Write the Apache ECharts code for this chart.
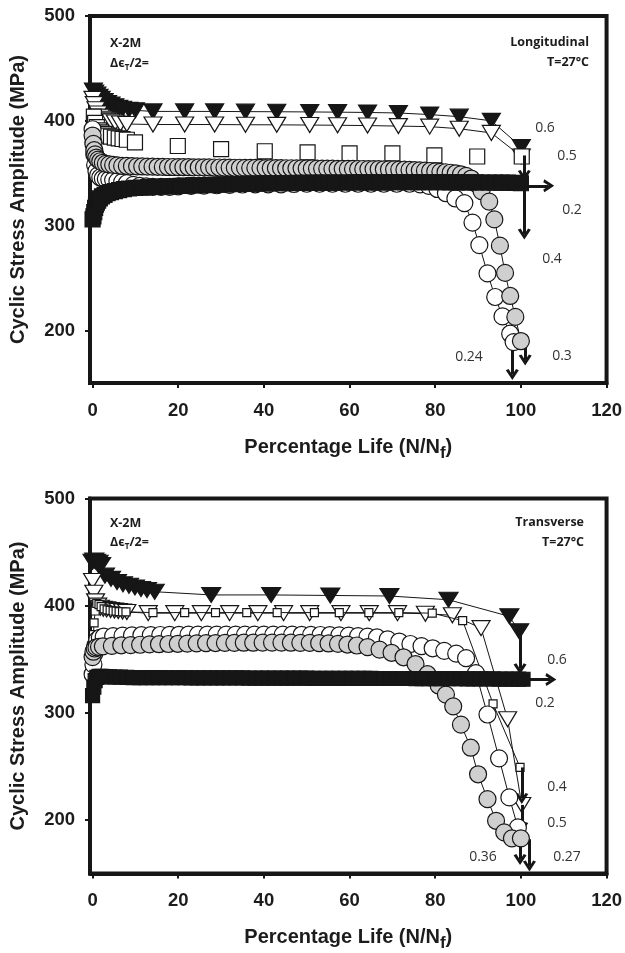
<!DOCTYPE html>
<html><head><meta charset="utf-8">
<script src="https://cdn.jsdelivr.net/npm/echarts@6/dist/echarts.min.js"></script>
<style>html,body{margin:0;padding:0;background:#fff}#c{width:625px;height:953px}</style>
</head><body><div id="c"></div>
<script>
// ---------- tick labels ----------
const xTicks = [0, 20, 40, 60, 80, 100, 120];
const yTicks = [200, 300, 400, 500];

// ---------- TOP: Longitudinal ----------
const L_06 = [[0.2,429],[0.5,427],[1,425],[1.5,423],[2,421],[2.7,419],[3.5,417],[4.3,415.5],[5.2,414],[6.1,412.5],[7,411.5],[8.5,410.5],[10,410],[14.1,409],[21.5,409],[28.5,409],[35.7,408.8],[43,408.7],[50.7,408.5],[57.2,408.3],[64.2,408],[71.4,407.5],[78.7,406],[85.6,404],[93.1,400],[100.1,375]];
const L_05 = [[0.1,421],[0.4,416],[0.8,411],[1.3,407],[1.9,404],[2.6,402],[3.4,400.5],[4.3,399.5],[5.3,398.5],[6.5,397.5],[8,397],[14.1,396.5],[21.5,396.5],[28.5,396.5],[35.7,396.3],[43,396.2],[50.7,396],[57.2,395.8],[64.2,395.5],[71.4,395],[78.7,394.5],[85.6,392.5],[93.1,388.5],[100.1,366]];
const L_04 = [[0.3,404],[0.6,398],[1,394],[1.5,391],[2,389],[2.7,387.5],[3.5,386],[4.3,385],[5.2,384],[6.1,383.3],[7,382.7],[8,382],[9.9,379.5],[19.9,376],[30,373],[40.2,371],[50.2,370],[60,369],[70,369],[79.8,367],[89.8,366],[100.2,366]];
const L_024 = [[0,392],[0.2,380],[0.4,368],[0.6,358],[0.9,352],[1.3,348],[1.8,346],[2.4,345],[3.1,344.5],[3.9,344],[4.8,343.5],[5.8,342.5],[6.9,341.5],[8,340.5],[9.5,339],[11,338],[12.5,337.5],[14,337],[16,337],[18,337],[20,337.5],[23,338],[26,338.3],[29,338.6],[32,339],[35,339.3],[38,339.5],[41,339.5],[44,339.5],[47,339.8],[50,340],[53,340],[56,340],[59,340],[62,340],[65,340],[68,340],[71,340],[74,340],[76.5,339.5],[78.5,338],[80.5,335],[82.5,331],[84.7,326],[86.8,321.6],[88.7,303],[90.3,281.5],[92.2,254.5],[94,232],[95.7,213.5],[97.5,197],[98.3,189]];
const L_03 = [[0,386],[0.2,378],[0.4,372],[0.6,368],[0.9,365],[1.3,363],[1.8,361.5],[2.4,360],[3.1,359],[3.9,358.5],[4.8,358],[5.8,357.5],[6.9,357],[8,357],[9.2,356.8],[10.4,356.6],[11.6,356.5],[12.8,356.4],[14,356.3],[15.2,356.2],[16.4,356.1],[17.6,356],[18.8,356],[20,355.9],[21.2,355.8],[22.4,355.8],[23.6,355.7],[24.8,355.7],[26,355.6],[27.2,355.6],[28.4,355.5],[29.6,355.5],[30.8,355.4],[32,355.4],[33.2,355.3],[34.4,355.3],[35.6,355.2],[36.8,355.2],[38,355.1],[39.2,355.1],[40.4,355],[41.6,355],[42.8,354.9],[44,354.9],[45.2,354.8],[46.4,354.8],[47.6,354.7],[48.8,354.7],[50,354.6],[51.2,354.6],[52.4,354.5],[53.6,354.5],[54.8,354.4],[56,354.4],[57.2,354.3],[58.4,354.3],[59.6,354.2],[60.8,354.2],[62,354.1],[63.2,354.1],[64.4,354],[65.6,354],[66.8,353.9],[68,353.8],[69.2,353.7],[70.4,353.6],[71.6,353.5],[72.8,353.4],[74,353.2],[75.2,353],[76.4,352.8],[77.6,352.5],[78.8,352.2],[80,351.8],[81.2,351.4],[82.4,351],[83.6,350.5],[84.8,350],[86,349],[87.2,347.5],[88.4,345],[89.6,340],[90.8,333],[92.6,323],[93.8,306],[95.1,281],[96.3,255],[97.5,233],[98.7,213],[100,190]];
const L_02 = [[0,306],[0.2,309],[0.4,313],[0.6,317],[0.8,320],[1,322],[1.3,324],[1.7,326],[2.2,328],[2.8,329.5],[3.5,331],[4.3,332],[5.2,333],[6.2,334],[7.3,334.8],[8.5,335.5],[10,336],[11.5,336.4],[13,336.8],[14.5,337.1],[16,337.4],[17.5,337.6],[19,337.8],[20.5,338],[22,338.2],[23.5,338.4],[25,338.6],[26.5,338.8],[28,339],[29.5,339.2],[31,339.4],[32.5,339.6],[34,339.8],[35.5,340],[37,340.1],[38.5,340.2],[40,340.3],[41.5,340.4],[43,340.5],[44.5,340.6],[46,340.7],[47.5,340.8],[49,340.8],[50.5,340.9],[52,341],[53.5,341],[55,341.1],[56.5,341.1],[58,341.2],[59.5,341.2],[61,341.3],[62.5,341.3],[64,341.3],[65.5,341.4],[67,341.4],[68.5,341.4],[70,341.5],[71.5,341.5],[73,341.5],[74.5,341.5],[76,341.5],[77.5,341.5],[79,341.5],[80.5,341.5],[82,341.5],[83.5,341.4],[85,341.4],[86.5,341.4],[88,341.3],[89.5,341.3],[91,341.2],[92.5,341.2],[94,341.1],[95.5,341],[97,341],[98.5,340.8],[100,340.5]];
const L_arrows = [[[100.8,367],[100.8,348]],[[100.8,334],[100.8,292]],[[100,338],[106.5,338]],[[98,187],[98,158]],[[101,191],[101,172]]];

// ---------- BOTTOM: Transverse ----------
const T_06 = [[0,441],[0.4,442],[0.8,441],[1.4,440],[2,438],[2.9,428],[4.3,425],[5.7,422],[7.1,420],[8.5,418.5],[9.9,417],[11.3,415.5],[12.7,414.5],[14.5,413],[27.7,410],[41.7,410],[55.5,409.5],[69.3,409],[83.1,405.5],[97.3,390],[99.6,376]];
const T_05 = [[0,423],[0.3,412],[0.7,404],[1.2,400],[1.8,398],[2.5,397],[3.3,396.5],[4.2,396],[5.1,395.5],[6,395],[7,394.5],[8,394],[13,393],[19.2,393],[25.4,393],[32,393],[38.6,393],[44.6,393],[50.7,393],[58,393],[64.6,393],[71.2,393],[77.7,392.5],[84,391],[90.7,379],[96.9,294],[100.2,214]];
const T_04 = [[0,356],[0.1,364],[0.2,373],[0.35,384],[0.6,395],[1,402],[1.5,401],[2,399],[2.7,397],[3.4,396],[4.1,395.5],[4.8,395],[5.5,394.8],[6.2,394.5],[7,394.3],[7.8,394.2],[14.1,393.5],[21.5,393.5],[28.7,393.5],[36,393.5],[43.1,393.5],[51.8,393.5],[57.6,393.5],[64.5,393.5],[71.5,393.5],[79.3,393],[86.4,386],[93.5,308.4],[99.8,249]];
const T_027 = [[0,336],[0.2,345],[0.4,355],[0.7,363],[1.1,368],[1.7,370],[2.6,371],[4.8,371.5],[7,372],[9.2,372.2],[11.4,372.4],[13.6,372.5],[15.8,372.6],[18,372.7],[20.2,372.8],[22.4,372.9],[24.6,373],[26.8,373],[29,373],[31.2,373],[33.4,373],[35.6,373],[37.8,373],[40,373],[42.2,373],[44.4,373],[46.6,372.9],[48.8,372.8],[51,372.7],[53.2,372.6],[55.4,372.4],[57.6,372.2],[59.8,372],[62,371.6],[64.2,371.1],[66.4,370.3],[68.9,368.5],[71.6,366.5],[74.2,364.2],[76.8,362.2],[79.4,360.2],[82.1,357.8],[84.9,355.2],[87.2,351],[89.5,337],[92.2,298.4],[94.9,257.5],[97.3,221],[99.3,193]];
const T_036 = [[0,352],[0.2,357],[0.5,360],[0.9,361],[1.5,361.5],[2.4,362],[4.5,362.5],[6.7,363],[8.9,363.2],[11.1,363.5],[13.3,363.8],[15.5,364],[17.7,364.2],[19.9,364.4],[22.1,364.6],[24.3,364.8],[26.5,365],[28.7,365.1],[30.9,365.2],[33.1,365.3],[35.3,365.4],[37.5,365.4],[39.7,365.5],[41.9,365.5],[44.1,365.5],[46.3,365.4],[48.5,365.3],[50.7,365.2],[52.9,365],[55.1,364.7],[57.3,364.3],[59.5,363.7],[61.7,362.8],[64.2,361.3],[67,359],[69.8,356],[72.6,351.8],[75.4,345.5],[78.2,336],[80.8,325.5],[82.5,317],[84.2,306],[86,289],[88.3,267.4],[90,242.6],[92.2,219.4],[94.2,199.2],[96.1,188.4],[97.9,182.8],[100,182.8]];
const T_02 = [[0,316],[0.3,324],[0.6,330],[1,333],[1.5,334],[2.2,334],[3,333.8],[4,333.6],[5.2,333.4],[6.5,333.2],[8,333],[9.5,332.9],[11,332.9],[12.5,332.8],[14,332.8],[15.5,332.8],[17,332.7],[18.5,332.7],[20,332.7],[21.5,332.7],[23,332.6],[24.5,332.6],[26,332.6],[27.5,332.6],[29,332.5],[30.5,332.5],[32,332.5],[33.5,332.5],[35,332.5],[36.5,332.4],[38,332.4],[39.5,332.4],[41,332.4],[42.5,332.4],[44,332.3],[45.5,332.3],[47,332.3],[48.5,332.3],[50,332.3],[51.5,332.2],[53,332.2],[54.5,332.2],[56,332.2],[57.5,332.2],[59,332.1],[60.5,332.1],[62,332.1],[63.5,332.1],[65,332.1],[66.5,332],[68,332],[69.5,332],[71,332],[72.5,332],[74,332],[75.5,331.9],[77,331.9],[78.5,331.9],[80,331.9],[81.5,331.8],[83,331.8],[84.5,331.8],[86,331.8],[87.5,331.7],[89,331.7],[90.5,331.7],[92,331.6],[93.5,331.6],[95,331.5],[96.5,331.5],[98,331.4],[99.5,331.4],[100.5,331.3]];
const T_arrows = [[[99.8,376],[99.8,341]],[[101,331],[107,331]],[[100.2,249],[100.2,220]],[[100.2,214],[100.2,193]],[[99.8,182],[99.8,163]],[[102,182],[102,157]]];

// ---------- drawing ----------
const INK = '#161616';
const TICKFONT = '"Liberation Sans", Arial, sans-serif';
const NOTEFONT = '"Open Sans", "Noto Sans", sans-serif';
const CHEVRON = 'path://M0,9 L6,0 L12,9 L9.4,10 L6,4.6 L2.6,10 Z';

function ser(data, gi, symbol, size, fill, withLine, z, rotate) {
  return {
    type: 'line', xAxisIndex: gi, yAxisIndex: gi, data: data,
    symbol: symbol, symbolSize: size, symbolRotate: rotate || 0,
    showSymbol: true, showAllSymbol: true, silent: true, z: z,
    itemStyle: { color: fill, borderColor: INK, borderWidth: 1.2, opacity: 1 },
    lineStyle: { color: INK, width: withLine ? 1 : 0, opacity: withLine ? 1 : 0 },
    emphasis: { disabled: true }
  };
}
function arrows(list, gi) {
  return {
    type: 'line', xAxisIndex: gi, yAxisIndex: gi, data: [], z: 30, silent: true,
    markLine: {
      silent: true, animation: false,
      symbol: ['none', CHEVRON], symbolSize: [13, 11],
      lineStyle: { color: INK, width: 3, type: 'solid' },
      label: { show: false }, emphasis: { disabled: true },
      data: list.map(a => [{ coord: a[0] }, { coord: a[1] }])
    }
  };
}
function xAxis(gi) {
  return {
    type: 'value', gridIndex: gi, min: -0.6, max: 120,
    axisLine: { show: true, onZero: false, lineStyle: { color: INK, width: 4 } },
    axisTick: { show: true, inside: false, length: 5, customValues: xTicks, lineStyle: { color: INK, width: 2 } },
    axisLabel: { customValues: xTicks, margin: 18, color: '#1c1c1c', fontSize: 18.5, fontWeight: 'bold', fontFamily: TICKFONT },
    splitLine: { show: false },
    name: '{m|Percentage Life (N/N}{s|f}{m|)}', nameLocation: 'middle', nameGap: 54,
    nameTextStyle: {
      fontFamily: TICKFONT, fontWeight: 'bold', fontSize: 20, color: '#1c1c1c',
      rich: {
        m: { fontFamily: TICKFONT, fontWeight: 'bold', fontSize: 20, color: '#1c1c1c', lineHeight: 22, verticalAlign: 'top' },
        s: { fontFamily: TICKFONT, fontWeight: 'bold', fontSize: 17, color: '#1c1c1c', lineHeight: 24.5, verticalAlign: 'bottom' }
      }
    }
  };
}
function yAxis(gi) {
  return {
    type: 'value', gridIndex: gi, min: 150, max: 500,
    axisLine: { show: true, onZero: false, lineStyle: { color: INK, width: 4 } },
    axisTick: { show: true, inside: false, length: 5, customValues: yTicks, lineStyle: { color: INK, width: 2 } },
    axisLabel: { customValues: yTicks, margin: 15, color: '#1c1c1c', fontSize: 18.5, fontWeight: 'bold', fontFamily: TICKFONT },
    splitLine: { show: false },
    name: 'Cyclic Stress Amplitude (MPa)', nameLocation: 'middle', nameGap: 62, nameRotate: 90,
    nameTextStyle: { fontFamily: TICKFONT, fontWeight: 'bold', fontSize: 20, color: '#1c1c1c' }
  };
}
function txt(x, y, text, opts) {
  return {
    type: 'text', x: x, y: y, silent: true, z: 50,
    style: Object.assign({
      text: text, fill: '#333', font: '14px ' + NOTEFONT, align: 'center', verticalAlign: 'middle'
    }, opts || {})
  };
}
const boldNote = { fill: '#1c1c1c', font: 'bold 12.5px ' + NOTEFONT };
const deltaRich = {
  b: { fontFamily: NOTEFONT, fontWeight: 'bold', fontSize: 12.5, fill: '#1c1c1c', lineHeight: 14, verticalAlign: 'top' },
  s: { fontFamily: NOTEFONT, fontWeight: 'bold', fontSize: 8, fill: '#1c1c1c', lineHeight: 15, verticalAlign: 'bottom' }
};
function deltaLabel(x, y) {
  return { type: 'text', x: x, y: y, silent: true, z: 50,
    style: { text: '{b|Δϵ}{s|T}{b|/2=}', rich: deltaRich, align: 'left', verticalAlign: 'middle', fill: '#1c1c1c' } };
}

const chart = echarts.init(document.getElementById('c'), null, { renderer: 'canvas' });
chart.setOption({
  animation: false,
  backgroundColor: '#fff',
  grid: [
    { left: 90, top: 16, width: 517.5, height: 367, show: true, borderColor: INK, borderWidth: 4, backgroundColor: 'transparent' },
    { left: 90, top: 498.5, width: 517.5, height: 376, show: true, borderColor: INK, borderWidth: 4, backgroundColor: 'transparent' }
  ],
  xAxis: [xAxis(0), xAxis(1)],
  yAxis: [yAxis(0), yAxis(1)],
  series: [
    ser(L_06, 0, 'triangle', [18, 15], INK, true, 2, 180),
    ser(L_05, 0, 'triangle', [18, 15], '#fff', true, 3, 180),
    ser(L_04, 0, 'rect', 15, '#fff', false, 4),
    ser(L_024, 0, 'circle', 17, '#fff', true, 5),
    ser(L_03, 0, 'circle', 17, '#cfcfcf', true, 6),
    ser(L_02, 0, 'rect', 15, INK, true, 7),
    arrows(L_arrows, 0),
    ser(T_06, 1, 'triangle', [19, 15], INK, true, 2, 180),
    ser(T_05, 1, 'triangle', [18, 15], '#fff', true, 3, 180),
    ser(T_04, 1, 'rect', 8, '#fff', true, 4),
    ser(T_027, 1, 'circle', 17, '#fff', true, 5),
    ser(T_036, 1, 'circle', 17, '#cfcfcf', true, 6),
    ser(T_02, 1, 'rect', 14, INK, true, 7),
    arrows(T_arrows, 1)
  ],
  graphic: [
    txt(110, 43, 'X-2M', Object.assign({ align: 'left' }, boldNote)),
    deltaLabel(110, 64),
    txt(589, 42, 'Longitudinal', Object.assign({ align: 'right' }, boldNote)),
    txt(589, 62, 'T=27°C', Object.assign({ align: 'right' }, boldNote)),
    txt(545, 128, '0.6'), txt(567, 156, '0.5'), txt(572, 210, '0.2'), txt(552, 259, '0.4'),
    txt(469, 357, '0.24'), txt(562, 356, '0.3'),
    txt(110, 523, 'X-2M', Object.assign({ align: 'left' }, boldNote)),
    deltaLabel(110, 543),
    txt(584, 522, 'Transverse', Object.assign({ align: 'right' }, boldNote)),
    txt(584, 542, 'T=27°C', Object.assign({ align: 'right' }, boldNote)),
    txt(557, 660, '0.6'), txt(545, 703, '0.2'), txt(557, 787, '0.4'), txt(557, 823, '0.5'),
    txt(483, 857, '0.36'), txt(567, 857, '0.27')
  ]
});
</script>
</body></html>
